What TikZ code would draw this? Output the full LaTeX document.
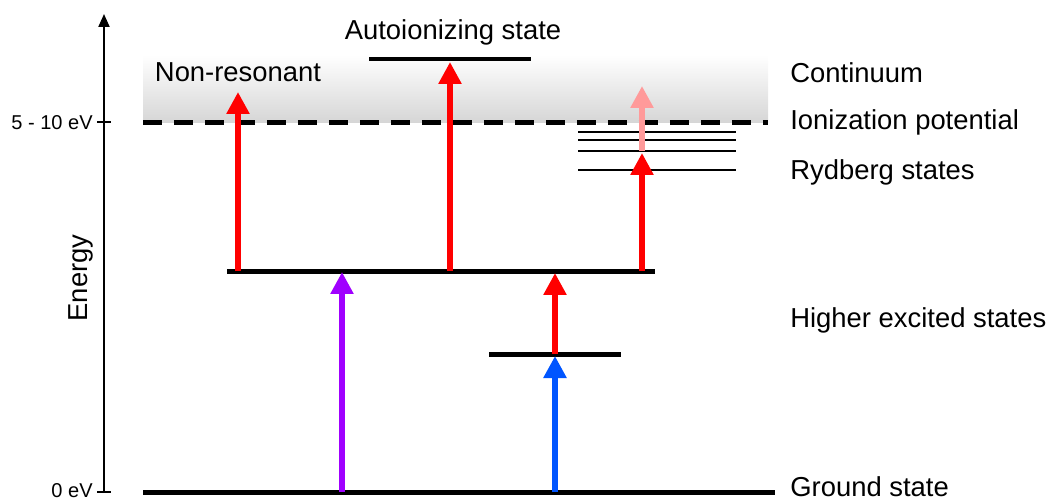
\documentclass[tikz,border=0pt]{standalone}
\usepackage{fontspec}
\setmainfont{Liberation Sans}
\usetikzlibrary{arrows.meta}
\definecolor{exred}{HTML}{FF0000}
\definecolor{expurple}{HTML}{A000FF}
\definecolor{exblue}{HTML}{0055FF}
\definecolor{expink}{HTML}{FF9A9A}
\definecolor{contgray}{HTML}{D6D6D6}
\tikzset{
  level/.style={line width=0.1cm, black},
  rydlevel/.style={line width=0.05cm, black},
  excite/.style={line width=0.12cm, -{Triangle[width=0.44cm,length=0.44cm]}},
  biglabel/.style={font=\fontsize{15.6}{18}\selectfont, inner sep=0pt},
  smalllabel/.style={font=\fontsize{11.4}{13}\selectfont, inner sep=0pt},
}
\begin{document}
\begin{tikzpicture}[x=0.02cm, y=-0.02cm]
\useasboundingbox (0,0) rectangle (1047,500);

% continuum band above the ionization threshold
\shade[top color=white, bottom color=contgray] (143,55) rectangle (768,122);

% energy axis with ticks
\draw[line width=0.04cm, -{Triangle[width=0.22cm,length=0.26cm]}] (104,493) -- (104,14);
\draw[line width=0.04cm] (97,122) -- (111,122);
\draw[line width=0.04cm] (97,492) -- (111,492);
\node[smalllabel, anchor=east] (tickhi) at (93,123) {5 - 10 eV};
\node[smalllabel, anchor=east] (ticklo) at (93,491) {0 eV};
\node[biglabel, rotate=90] (axislabel) at (81,278) {Energy};

% ionization potential
\draw[line width=0.1cm, dash pattern=on 0.38cm off 0.24cm] (143,122) -- (768,122);

% energy levels
\draw[level] (143,492) -- (775,492);
\draw[level] (227,271) -- (655,271);
\draw[level] (489,354) -- (621,354);
\draw[line width=0.08cm] (369,59) -- (531,59);
\foreach \yy in {132,140,151,170} \draw[rydlevel] (578,\yy) -- (736,\yy);

% anchor points of the transitions
\coordinate (gA) at (342,492);
\coordinate (hA) at (342,272);
\coordinate (gB) at (555,492);
\coordinate (mB) at (555,356);
\coordinate (mB2) at (555,354);
\coordinate (hB) at (555,273);
\coordinate (hN) at (238,271);
\coordinate (cN) at (238,92);
\coordinate (hAI) at (450,271);
\coordinate (aiT) at (450,62);
\coordinate (hR) at (642,271);
\coordinate (rT) at (642,153);
\coordinate (rB) at (642,151);
\coordinate (pT) at (642,86);

% transitions
\draw[excite, expurple] (gA) -- (hA);
\draw[excite, exblue] (gB) -- (mB);
\draw[excite, exred] (mB2) -- (hB);
\draw[excite, exred] (hN) -- (cN);
\draw[excite, exred] (hAI) -- (aiT);
\draw[excite, expink] (rB) -- (pT);
\draw[excite, exred] (hR) -- (rT);

% labels
\node[biglabel] (nonres) at (238,72) {Non-resonant};
\node[biglabel] (autoion) at (453,32) {Autoionizing state};
\node[biglabel, anchor=west] (cont) at (790,73) {Continuum};
\node[biglabel, anchor=west] (ip) at (790,122) {Ionization potential};
\node[biglabel, anchor=west] (ryd) at (790,172) {Rydberg states};
\node[biglabel, anchor=west] (hes) at (790,320) {Higher excited states};
\node[biglabel, anchor=west] (gs) at (790,487) {Ground state};
\end{tikzpicture}
\end{document}
